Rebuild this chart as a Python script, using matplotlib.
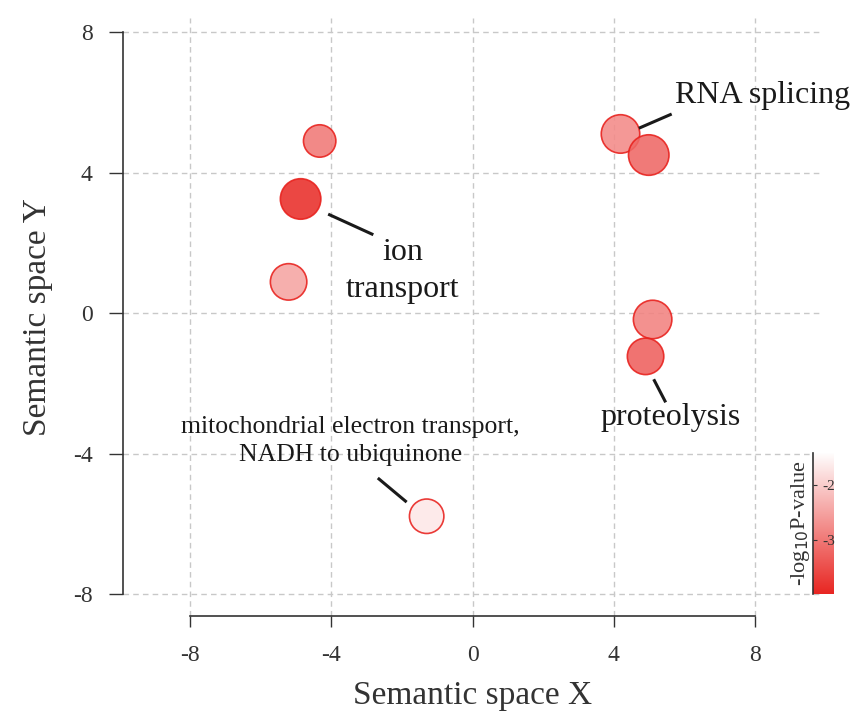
import numpy as np
import matplotlib
matplotlib.use('Agg')
import matplotlib.pyplot as plt
from matplotlib.colors import LinearSegmentedColormap, Normalize

plt.rcParams['font.family'] = ['Liberation Serif', 'DejaVu Serif']
plt.rcParams['axes.unicode_minus'] = False

# GO terms in semantic space
sem_x = [-4.33, -4.87, -5.21, 4.19, 4.99, 5.10, 4.90, -1.30]
sem_y = [4.90, 3.25, 0.89, 5.10, 4.50, -0.18, -1.23, -5.78]
log10_p = [-3.0, -3.9, -2.5, -2.8, -3.2, -2.9, -3.3, -1.7]
plot_size = [3.2, 4.0, 3.6, 3.8, 4.0, 3.8, 3.6, 3.4]

labels = ['RNA splicing', 'ion\ntransport', 'proteolysis',
          'mitochondrial electron transport,\nNADH to ubiquinone']
label_xy = [(8.2, 6.2), (-1.98, 1.2), (5.61, -2.97), (-3.46, -3.65)]
seg_start = [(5.6, 5.65), (-4.05, 2.8), (5.15, -1.92), (-2.65, -4.72)]
seg_end = [(4.75, 5.28), (-2.85, 2.25), (5.45, -2.5), (-1.9, -5.35)]
label_size = [23, 23, 23, 18.5]

ticks = [-8, -4, 0, 4, 8]
cbar_ticks = [-2, -3]
cmin, cmax = -3.98, -1.42

cmap = LinearSegmentedColormap.from_list('redwhite', ['#e82622', '#ffffff'])
norm = Normalize(vmin=cmin, vmax=cmax)

fig = plt.figure(figsize=(8.56, 7.2), dpi=100)
ax = fig.add_axes([0.1437, 0.1444, 0.8167, 0.8306])

s = (np.array(plot_size) * 3.4) ** 2 * 4.6
ax.scatter(sem_x, sem_y, s=s, c=log10_p, cmap=cmap, norm=norm, alpha=0.88,
           edgecolors='#e8201c', linewidths=1.2, zorder=3)

for lab, (lx, ly), p0, p1, fs in zip(labels, label_xy, seg_start, seg_end, label_size):
    ax.plot([p0[0], p1[0]], [p0[1], p1[1]], color='#1a1a1a', lw=2.2, zorder=4)
    ax.text(lx, ly, lab, fontsize=fs, ha='center', va='center',
            color='#1a1a1a', linespacing=1.35, zorder=5)

ax.set_xlim(-9.9, 9.9)
ax.set_ylim(-8.62, 8.4)
ax.set_xticks(ticks)
ax.set_yticks(ticks)
ax.grid(True, color='#c8c8c8', ls=(0, (4, 3)), lw=1.0)
ax.set_axisbelow(True)
for side in ['top', 'right']:
    ax.spines[side].set_visible(False)
ax.spines['left'].set_bounds(-8, 8)
ax.spines['bottom'].set_bounds(-8, 8)
for side in ['left', 'bottom']:
    ax.spines[side].set_color('#333333')
    ax.spines[side].set_linewidth(1.2)
ax.tick_params(width=1.0, color='#333333', labelsize=17, labelcolor='#333333')
ax.tick_params(axis='x', length=8, pad=13)
ax.tick_params(axis='y', length=10, pad=12)
ax.set_xlabel('Semantic space X', fontsize=24, color='#333333', labelpad=10)
ax.set_ylabel('Semantic space Y', fontsize=24, color='#333333', labelpad=14)

# colour bar
cax = fig.add_axes([0.950, 0.175, 0.0245, 0.196])
grad = np.linspace(cmin, cmax, 256).reshape(-1, 1)
cax.imshow(grad, aspect='auto', cmap=cmap, norm=norm, origin='lower',
           extent=[0, 1, cmin, cmax])
cax.set_xticks([])
cax.set_yticks(cbar_ticks)
for side in ['top', 'right', 'bottom']:
    cax.spines[side].set_visible(False)
cax.spines['left'].set_color('#333333')
cax.spines['left'].set_linewidth(1.2)
cax.tick_params(axis='y', direction='in', length=3, pad=-16, labelsize=11,
                labelcolor='#333333', color='#333333')
cax.set_ylabel('-log$_{10}$P-value', fontsize=16, color='#333333', labelpad=1)

fig.savefig('out.png', dpi=100)
